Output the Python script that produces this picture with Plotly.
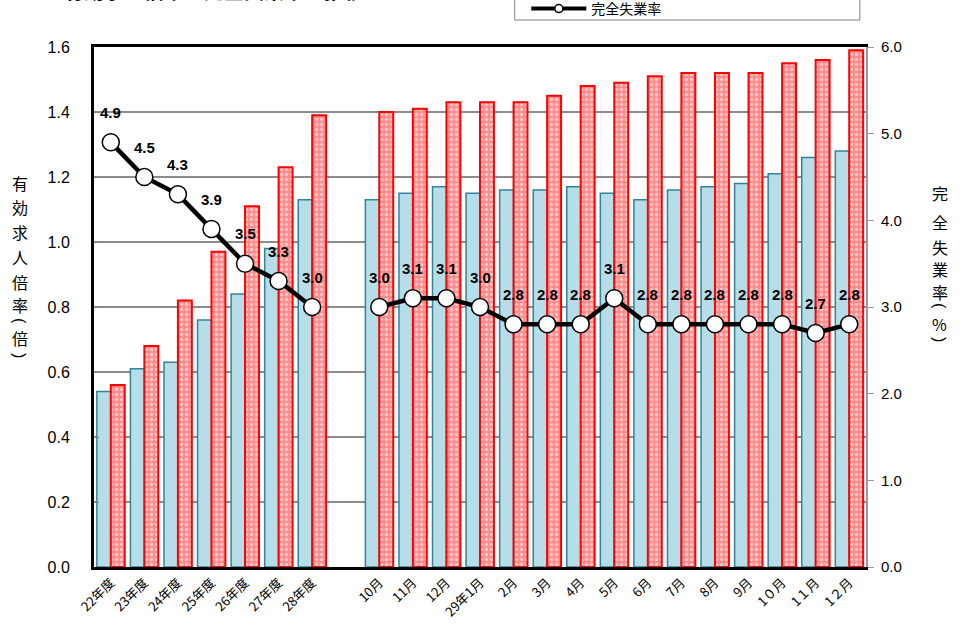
import plotly.graph_objects as go

# 年度・月の区分（28年度と10月の間は空欄）
labels = ["22年度", "23年度", "24年度", "25年度", "26年度", "27年度", "28年度", "",
          "10月", "11月", "12月", "29年1月", "2月", "3月", "4月", "5月", "6月",
          "7月", "8月", "9月", "1０月", "1１月", "1２月"]

# 有効求人倍率（県）
ratio_pref = [0.54, 0.61, 0.63, 0.76, 0.84, 0.98, 1.13, None,
              1.13, 1.15, 1.17, 1.15, 1.16, 1.16, 1.17, 1.15, 1.13,
              1.16, 1.17, 1.18, 1.21, 1.26, 1.28]

# 有効求人倍率（全国）
ratio_nat = [0.56, 0.68, 0.82, 0.97, 1.11, 1.23, 1.39, None,
             1.40, 1.41, 1.43, 1.43, 1.43, 1.45, 1.48, 1.49, 1.51,
             1.52, 1.52, 1.52, 1.55, 1.56, 1.59]

# 完全失業率（%）
unemp = [4.9, 4.5, 4.3, 3.9, 3.5, 3.3, 3.0, None,
         3.0, 3.1, 3.1, 3.0, 2.8, 2.8, 2.8, 3.1, 2.8,
         2.8, 2.8, 2.8, 2.8, 2.7, 2.8]

x = list(range(len(labels)))
FONT = "Liberation Sans, Arial, Noto Sans CJK JP, sans-serif"
JFONT = "Noto Sans CJK JP, sans-serif"

W, H = 966, 638
M_L, M_R, M_T, M_B = 94, 100, 47, 71
PLOT_H = H - M_T - M_B


def paper_y(py):
    """画面上の縦位置(px)を paper 座標へ変換"""
    return (H - M_B - py) / PLOT_H


fig = go.Figure()

fig.add_trace(go.Bar(
    x=x, y=ratio_pref, name="有効求人倍率（県）", showlegend=False,
    marker=dict(color="#B7DDE8", line=dict(color="#31849B", width=1.5)),
))
fig.add_trace(go.Bar(
    x=x, y=ratio_nat, name="有効求人倍率（全国）", showlegend=False,
    marker=dict(color="#FF8C8C", line=dict(color="#FF0000", width=2),
                pattern=dict(shape=".", fgcolor="#FFFFFF", bgcolor="#FF8C8C",
                             size=5, solidity=0.35)),
))
fig.add_trace(go.Scatter(
    x=x, y=unemp, yaxis="y2", mode="lines+markers", name="完全失業率",
    showlegend=False, connectgaps=False,
    line=dict(color="#000000", width=4.5),
    marker=dict(size=17, color="#FFFFFF", line=dict(color="#000000", width=1.5)),
))
# 凡例用の見本
fig.add_trace(go.Scatter(
    x=[None], y=[None], yaxis="y2", mode="lines+markers", name="完全失業率",
    line=dict(color="#000000", width=4),
    marker=dict(size=8, color="#FFFFFF", line=dict(color="#000000", width=1.5)),
))

# 失業率の値ラベル
for xi, v in zip(x, unemp):
    if v is None:
        continue
    fig.add_annotation(x=xi, y=v, yref="y2", text=f"<b>{v:.1f}</b>", showarrow=False,
                       yshift=30, font=dict(family=FONT, size=15, color="#000000"))

# 縦書きの軸タイトル（括弧は横倒しにして縦書き用の形にする）
left_chars = [("有", 183), ("効", 207), ("求", 232), ("人", 257), ("倍", 282),
              ("率", 305), ("(", 321), ("倍", 338), (")", 355)]
right_chars = [("完", 193), ("全", 222), ("失", 247), ("業", 269), ("率", 292),
               ("(", 306), ("%", 324), (")", 340)]


def add_vertical(chars, px_x):
    for ch, py in chars:
        is_paren = ch in "()"
        fig.add_annotation(xref="paper", yref="paper",
                           x=(px_x - M_L) / (W - M_L - M_R), y=paper_y(py),
                           xanchor="center", yanchor="middle", text=ch,
                           textangle=90 if is_paren else 0, showarrow=False,
                           font=dict(family=FONT if is_paren else JFONT,
                                     size=16, color="#000000"))


add_vertical(left_chars, 20)
add_vertical(right_chars, 940)

# 表題
fig.add_annotation(xref="paper", yref="paper", x=-0.042, y=paper_y(-9),
                   xanchor="left", yanchor="middle",
                   text="<b>有効求人倍率と完全失業率の推移</b>",
                   showarrow=False, font=dict(family=JFONT, size=20, color="#000000"))

# 凡例枠
fig.add_shape(type="rect", xref="paper", yref="paper", x0=0.545, x1=0.992,
              y0=paper_y(20), y1=paper_y(-40), line=dict(color="#808080", width=1),
              fillcolor="rgba(0,0,0,0)")

fig.update_layout(
    width=W, height=H,
    margin=dict(l=M_L, r=M_R, t=M_T, b=M_B, autoexpand=False),
    paper_bgcolor="#FFFFFF", plot_bgcolor="#FFFFFF",
    barmode="group", bargap=0.17, bargroupgap=0,
    font=dict(family=FONT, color="#000000"),
    showlegend=True,
    legend=dict(x=0.56, y=paper_y(9), xanchor="left", yanchor="middle",
                bgcolor="rgba(0,0,0,0)", borderwidth=0,
                font=dict(family=JFONT, size=14, color="#000000"),
                itemwidth=55),
    xaxis=dict(
        tickmode="array", tickvals=x, ticktext=labels, tickangle=-45,
        range=[-0.5, len(labels) - 0.5],
        showline=True, linecolor="#000000", linewidth=3, mirror=True,
        showgrid=False, ticks="", zeroline=False,
        tickfont=dict(family=JFONT, size=13, color="#000000"),
    ),
    yaxis=dict(
        range=[0, 1.6], dtick=0.2, tickformat=".1f",
        showline=True, linecolor="#000000", linewidth=3,
        showgrid=True, gridcolor="#8C8C8C", gridwidth=1.5,
        ticks="inside", ticklen=5, tickcolor="#808080",
        zeroline=False,
        tickfont=dict(family=FONT, size=16, color="#000000"),
        ticklabelstandoff=18,
    ),
    yaxis2=dict(
        range=[0, 6], dtick=1, tickformat=".1f", overlaying="y", side="right",
        showline=True, linecolor="#999999", linewidth=2,
        showgrid=False, zeroline=False,
        ticks="outside", ticklen=6, tickcolor="#999999",
        tickfont=dict(family=FONT, size=15, color="#000000"),
        ticklabelstandoff=4,
    ),
)

fig.write_html("out.html")
